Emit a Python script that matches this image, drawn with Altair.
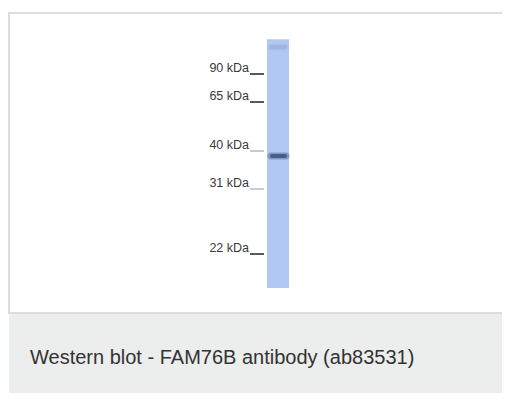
import altair as alt
import pandas as pd

# ---- data ----
marker_labels = ["90 kDa", "65 kDa", "40 kDa", "31 kDa", "22 kDa"]
marker_kda = [90, 65, 40, 31, 22]
marker_strong = [True, True, False, False, True]

lane_name = ["FAM76B"]
lane_top_kda = [121.0]
lane_bottom_kda = [17.3]

band_kda = [38.8, 114.0]
band_intensity = [1.0, 0.15]

caption = ["Western blot - FAM76B antibody (ab83531)"]

# ---- helpers ----
FONT = "Liberation Sans"
# piecewise migration scale (kDa -> gel position)
yscale = alt.Scale(domain=marker_kda, range=[66, 94, 143, 181, 246], nice=False, zero=False)

one = pd.DataFrame({"k": [0]})
markers = pd.DataFrame({"label": marker_labels, "kda": marker_kda, "strong": marker_strong})
lane = pd.DataFrame({"lane": lane_name, "top": lane_top_kda, "bottom": lane_bottom_kda})
bands = pd.DataFrame({"kda": band_kda, "intensity": band_intensity})
cap = pd.DataFrame({"text": caption})

panel = alt.Chart(one).mark_rect(fill="white", stroke="#dddddd", strokeWidth=2).encode(
    x=alt.value(1), x2=alt.value(540), y=alt.value(5), y2=alt.value(305)
)
footer = alt.Chart(one).mark_rect(fill="#eceded").encode(
    x=alt.value(1), x2=alt.value(540), y=alt.value(306), y2=alt.value(400)
)

lane_rect = alt.Chart(lane).mark_rect(fill="#b0c8f2").encode(
    x=alt.value(259), x2=alt.value(281),
    y=alt.Y("top:Q", scale=yscale, axis=None),
    y2="bottom:Q",
)

band_halo = alt.Chart(bands).mark_rule(color="#4d679c", strokeCap="round").encode(
    x=alt.value(263), x2=alt.value(278),
    y=alt.Y("kda:Q", scale=yscale, axis=None),
    strokeWidth=alt.value(7),
    opacity=alt.Opacity("intensity:Q", scale=alt.Scale(domain=[0, 1], range=[0, 0.5]), legend=None),
)
band_core = alt.Chart(bands).mark_rule(color="#15223f", strokeCap="round").encode(
    x=alt.value(264), x2=alt.value(277),
    y=alt.Y("kda:Q", scale=yscale, axis=None),
    strokeWidth=alt.value(4),
    opacity=alt.Opacity("intensity:Q", scale=alt.Scale(domain=[0, 1], range=[0, 1]), legend=None),
)

ticks = alt.Chart(markers).mark_rule(strokeWidth=1.5).encode(
    x=alt.value(242), x2=alt.value(256),
    y=alt.Y("kda:Q", scale=yscale, axis=None),
    color=alt.Color("strong:N", scale=alt.Scale(domain=[True, False], range=["#222222", "#b8b8b8"]), legend=None),
)

labels = alt.Chart(markers).mark_text(
    align="right", baseline="alphabetic", dy=-2, font=FONT, fontSize=12.5, color="#3a3a3a"
).encode(
    x=alt.value(241),
    y=alt.Y("kda:Q", scale=yscale, axis=None),
    text="label:N",
)

cap_text = alt.Chart(cap).mark_text(
    align="left", baseline="alphabetic", font=FONT, fontSize=20, color="#333333"
).encode(x=alt.value(22), y=alt.value(356), text="text:N")

chart = alt.layer(panel, footer, lane_rect, band_halo, band_core, ticks, labels, cap_text).properties(
    width=494, height=385, padding=0, autosize=alt.AutoSizeParams(type="none")
).configure_view(stroke=None)

chart.save("out.html", embed_options={"renderer": "svg", "actions": False})
